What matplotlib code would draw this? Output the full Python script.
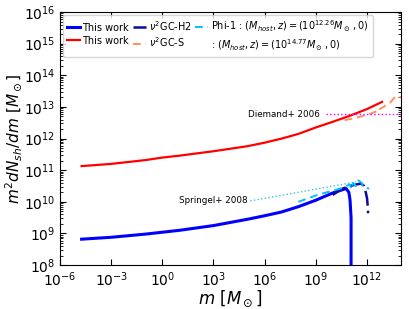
import numpy as np
import matplotlib
matplotlib.use("Agg")
import matplotlib.pyplot as plt

# log10(m), log10(m^2 dN/dm)
red_lm = [-4.74, -3, -1, 0, 1, 3, 5, 6, 7, 8, 9, 10, 11, 12, 12.9]
red_ly = [11.13, 11.2, 11.32, 11.4, 11.46, 11.6, 11.76, 11.87, 12.0, 12.15, 12.35, 12.53, 12.72, 12.93, 13.16]

blue_lm = [-4.74, -3, -1, 0, 1, 3, 5, 6, 7, 8, 9, 10, 10.5, 10.79, 10.95, 11.02, 11.08, 11.08]
blue_ly = [8.82, 8.88, 8.98, 9.04, 9.1, 9.25, 9.45, 9.56, 9.68, 9.85, 10.05, 10.28, 10.37, 10.42, 10.3, 10.05, 9.5, 7.5]

h2_lm = [10.0, 10.5, 11.0, 11.4, 11.67, 11.85, 11.96, 12.02, 12.05, 12.08]
h2_ly = [10.22, 10.4, 10.5, 10.55, 10.58, 10.5, 10.26, 10.1, 9.9, 9.64]

phi_lm = [7.98, 8.5, 9.0, 9.5, 10.0, 10.5, 10.8, 11.0, 11.1, 11.2, 11.35, 11.5, 11.7, 11.85, 12.15]
phi_ly = [10.0, 10.1, 10.2, 10.28, 10.35, 10.43, 10.5, 10.55, 10.4, 10.6, 10.5, 10.68, 10.6, 10.45, 10.42]

gcs_lm = [10.7, 11.3, 11.8, 12.2, 12.5, 12.65, 12.8, 13.0, 13.2, 13.4, 13.6, 13.8, 14.0]
gcs_ly = [12.58, 12.65, 12.72, 12.78, 12.85, 12.82, 12.95, 13.0, 13.1, 13.15, 13.28, 13.35, 13.3]

springel_lm = [5.16, 11.37]
springel_ly = [10.03, 10.63]
diemand_lm = [9.6, 14.0]
diemand_ly = [12.77, 12.77]

p = lambda a: 10.0 ** np.asarray(a)

fig = plt.figure(figsize=(4.09, 3.09), dpi=100)
ax = fig.add_axes([0.147, 0.142, 0.833, 0.819])

ax.plot(p(blue_lm), p(blue_ly), color="blue", lw=2.2, label="This work")
ax.plot(p(red_lm), p(red_ly), color="red", lw=1.6, label="This work")
ax.plot(p(h2_lm), p(h2_ly), color="#0a0aa0", lw=1.8, ls=(0, (6, 2)), label=r"$\nu^2$GC-H2")
ax.plot(p(gcs_lm), p(gcs_ly), color="#ff9060", lw=1.4, ls=(0, (4, 2.5)), label=r"$\nu^2$GC-S")
ax.plot(p(phi_lm), p(phi_ly), color="#00c0ff", lw=1.4, ls=(0, (4, 2.5)),
        label=r"Phi-1 : $(M_{host}, z) = (10^{12.26} M_\odot\,, 0)$")
ax.plot([], [], color="none", label=r": $(M_{host}, z) = (10^{14.77} M_\odot\,, 0)$")

ax.plot(p(springel_lm), p(springel_ly), color="#30c8d8", lw=1.0, ls=":")
ax.plot(p(diemand_lm), p(diemand_ly), color="magenta", lw=1.0, ls=":")
ax.text(10**5.0, 10**10.05, "Springel+ 2008", ha="right", va="center", fontsize=6.3)
ax.text(10**9.26, 10**12.77, "Diemand+ 2006", ha="right", va="center", fontsize=6.3)

ax.set_xscale("log"); ax.set_yscale("log")
ax.set_xlim(1e-6, 1e14); ax.set_ylim(1e8, 1e16)
ax.set_xticks([1e-6, 1e-3, 1e0, 1e3, 1e6, 1e9, 1e12])
ax.set_yticks([10.0 ** k for k in range(8, 17)])
ax.xaxis.set_minor_locator(matplotlib.ticker.NullLocator())
ax.yaxis.set_minor_locator(matplotlib.ticker.LogLocator(base=10, subs=np.arange(2, 10), numticks=20))
ax.tick_params(which="both", direction="in", top=True, right=True, labelsize=10)
ax.tick_params(which="major", length=4)
ax.tick_params(which="minor", length=2)
ax.set_xlabel(r"$m\ [M_\odot]$", fontsize=12, labelpad=0)
ax.set_ylabel(r"$m^2dN_{sh}/dm\ [M_\odot]$", fontsize=11, labelpad=0)

ax.legend(ncol=3, loc="upper left", fontsize=7, handlelength=1.3, columnspacing=0.4,
          handletextpad=0.3, borderaxespad=0.3, labelspacing=0.3)

fig.savefig("out.png", dpi=100)
